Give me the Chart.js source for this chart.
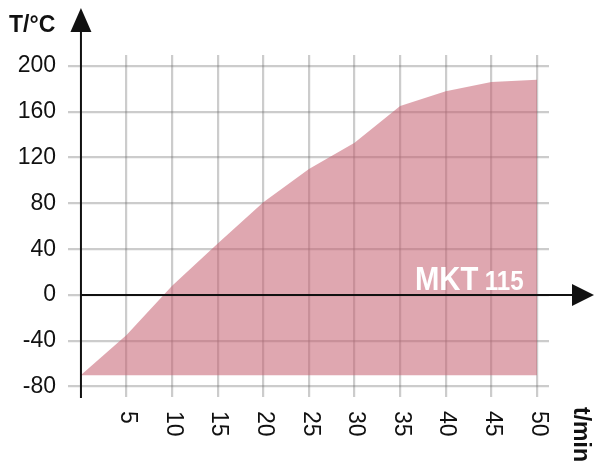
<!DOCTYPE html>
<html>
<head>
<meta charset="utf-8">
<script src="https://cdn.jsdelivr.net/npm/chart.js@4.4.0/dist/chart.umd.min.js"></script>
<style>
html,body{margin:0;padding:0;background:#fff;}
#wrap{width:595px;height:472px;position:relative;}
</style>
</head>
<body>
<div id="wrap"><canvas id="c" width="595" height="472"></canvas></div>
<script>
// ---- data ----
const categories = [0, 5, 10, 15, 20, 25, 30, 35, 40, 45, 50];          // t / min
const temperatures = [-70, -35, 8, 45, 81, 110, 133, 165, 178, 186, 188]; // T / °C
const baseline = -70;
const xTickValues = [5, 10, 15, 20, 25, 30, 35, 40, 45, 50];
const xTickLabels = ['5', '10', '15', '20', '25', '30', '35', '40', '45', '50'];
const yTickValues = [-80, -40, 0, 40, 80, 120, 160, 200];
const yTickLabels = ['-80', '-40', '0', '40', '80', '120', '160', '200'];
const yTitle = 'T/°C';
const xTitle = 't/min';
const seriesName = 'MKT';
const seriesNumber = '115';

Chart.defaults.font.family = "'Liberation Sans', Arial, Helvetica, sans-serif";
Chart.defaults.color = '#111';

const ink = '#111';

const decor = {
  id: 'decor',
  afterDraw(chart) {
    const ctx = chart.ctx;
    const xs = chart.scales.x, ys = chart.scales.y;
    const x0 = xs.getPixelForValue(0);
    const y0 = ys.getPixelForValue(0);
    const area = chart.chartArea;
    ctx.save();
    // axes
    ctx.strokeStyle = ink;
    ctx.lineWidth = 2;
    ctx.beginPath();
    ctx.moveTo(x0, area.bottom + 1);
    ctx.lineTo(x0, 30);
    ctx.moveTo(x0, y0);
    ctx.lineTo(574, y0);
    ctx.stroke();
    ctx.fillStyle = ink;
    // y arrow
    ctx.beginPath();
    ctx.moveTo(x0, 8);
    ctx.lineTo(x0 + 10.5, 32);
    ctx.lineTo(x0 - 10.5, 32);
    ctx.closePath();
    ctx.fill();
    // x arrow
    ctx.beginPath();
    ctx.moveTo(594, y0);
    ctx.lineTo(572, y0 - 11);
    ctx.lineTo(572, y0 + 11);
    ctx.closePath();
    ctx.fill();
    // x tick labels (rotated clockwise)
    ctx.font = "23px 'Liberation Sans', Arial, sans-serif";
    ctx.textAlign = 'left';
    ctx.textBaseline = 'middle';
    xTickValues.forEach((v, i) => {
      const px = xs.getPixelForValue(v);
      ctx.save();
      ctx.translate(px + 1, area.bottom + 14);
      ctx.rotate(Math.PI / 2);
      ctx.fillText(xTickLabels[i], 0, 0);
      ctx.restore();
    });
    // axis titles
    ctx.font = "bold 23px 'Liberation Sans', Arial, sans-serif";
    ctx.textBaseline = 'alphabetic';
    ctx.textAlign = 'left';
    ctx.fillText(yTitle, 9, 32);
    ctx.save();
    ctx.translate(580, area.bottom + 10);
    ctx.rotate(Math.PI / 2);
    ctx.textBaseline = 'middle';
    ctx.fillText(xTitle, 0, 0);
    ctx.restore();
    // series label
    ctx.fillStyle = '#fff';
    ctx.textBaseline = 'alphabetic';
    ctx.save();
    ctx.translate(415, y0 - 5);
    ctx.scale(0.86, 1);
    ctx.font = "bold 34px 'Liberation Sans', Arial, sans-serif";
    ctx.fillText(seriesName, 0, 0);
    const w = ctx.measureText(seriesName + ' ').width;
    ctx.font = "bold 28px 'Liberation Sans', Arial, sans-serif";
    ctx.fillText(seriesNumber, w - 2, 0);
    ctx.restore();
    ctx.restore();
  }
};

new Chart(document.getElementById('c'), {
  type: 'line',
  data: {
    datasets: [{
      label: seriesName + ' ' + seriesNumber,
      data: categories.map((c, i) => ({ x: c, y: temperatures[i] })),
      fill: { value: baseline },
      backgroundColor: 'rgba(198,98,114,0.56)',
      borderWidth: 0,
      borderColor: 'rgba(0,0,0,0)',
      pointRadius: 0,
      tension: 0
    }]
  },
  options: {
    responsive: false,
    animation: false,
    devicePixelRatio: 1,
    layout: { padding: { left: 0, top: 55, right: 46, bottom: 75 } },
    plugins: { legend: { display: false }, tooltip: { enabled: false } },
    scales: {
      x: {
        type: 'linear',
        min: -1.42,
        max: 51.32,
        z: 1,
        afterBuildTicks: s => { s.ticks = xTickValues.map(v => ({ value: v })); },
        afterFit: s => { s.height = 0; },
        ticks: { display: false },
        grid: { color: 'rgba(100,100,100,0.33)', lineWidth: 2.2, drawTicks: false },
        border: { display: false }
      },
      y: {
        type: 'linear',
        min: -89.1,
        max: 209.6,
        z: 1,
        afterBuildTicks: s => { s.ticks = yTickValues.map(v => ({ value: v })); },
        afterFit: s => { s.width = 68; },
        ticks: {
          padding: 12,
          font: { size: 23 },
          color: ink,
          callback: (v) => { const i = yTickValues.indexOf(v); return i >= 0 ? yTickLabels[i] : ''; }
        },
        grid: { color: 'rgba(100,100,100,0.33)', lineWidth: 2.2, drawTicks: false },
        border: { display: false }
      }
    }
  },
  plugins: [decor]
});
</script>
</body>
</html>
